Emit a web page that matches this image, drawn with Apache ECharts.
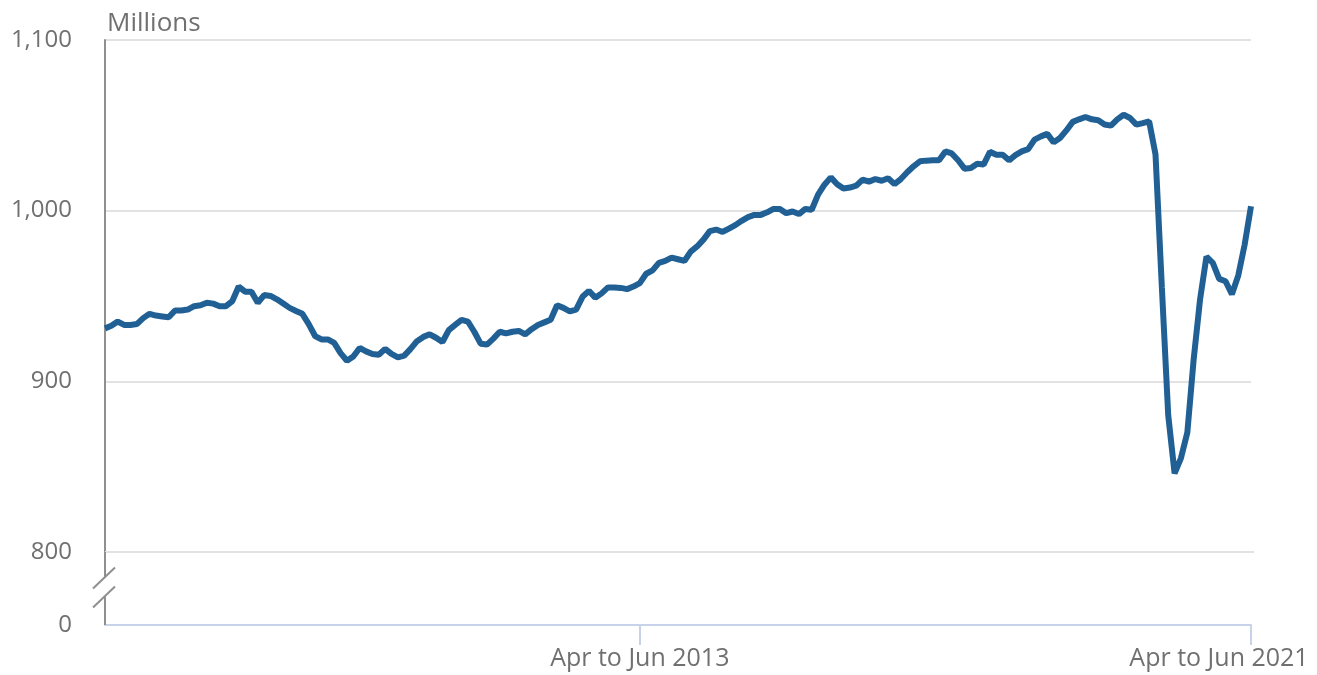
<!DOCTYPE html>
<html>
<head>
<meta charset="utf-8">
<script src="https://cdn.jsdelivr.net/npm/echarts@6/dist/echarts.min.js"></script>
<style>
  html, body { margin: 0; padding: 0; background: #fff; }
  #chartWrap { width: 1317px; height: 675px; }
</style>
</head>
<body>
<div id="chartWrap"></div>
<script>
// weekly hours worked, millions, rolling three-month periods from Apr to Jun 2006
var hours = [
  931, 932.5, 935, 933, 933, 933.5, 937, 939.5, 938.5, 938,
  937.5, 941.5, 941.5, 942, 944, 944.5, 946, 945.5, 944, 944,
  947, 955.5, 952.5, 952.5, 946, 950.5, 950, 948, 945.5, 943,
  941.2, 939.5, 933.5, 926.5, 924.5, 924.5, 922.5, 916.5, 912, 914.5,
  919.5, 917.5, 916, 915.5, 919, 916, 914, 915, 919, 923.5,
  926, 927.5, 925.5, 923, 930, 933, 936, 935, 929, 922,
  921.5, 925, 929, 928, 929, 929.5, 927.5, 930.5, 933, 934.5,
  936, 944.5, 943, 941, 942, 949.5, 953, 949, 951.5, 955,
  954.9, 954.7, 954, 955.5, 957.5, 963, 965, 969.4, 970.5, 972.5,
  971.5, 970.5, 976, 979, 983, 988, 988.9, 987.5, 989.5, 991.5,
  994, 996.2, 997.5, 997.5, 999, 1001, 1001, 998.5, 999.5, 998,
  1001, 1000.5, 1009.4, 1015.2, 1019.5, 1015.5, 1013, 1013.5, 1014.6, 1018.2,
  1017, 1018.5, 1017.5, 1019, 1015.5, 1018.5, 1022.5, 1026, 1028.9, 1029.3,
  1029.5, 1029.5, 1034.7, 1033.5, 1029.5, 1024.6, 1025, 1027.5, 1027, 1034.5,
  1032.8, 1032.8, 1029.5, 1032.5, 1034.7, 1036, 1041.6, 1043.5, 1045, 1040,
  1042.6, 1047, 1052, 1053.5, 1054.9, 1053.5, 1053, 1050.5, 1049.8, 1053.5,
  1056.2, 1054.3, 1050.4, 1051.3, 1052.3, 1033, 955, 880, 846, 855,
  870, 913, 948, 973, 969.4, 960, 958.6, 951, 962, 980,
  1002.5
];

// x axis labels that are shown
var labelledPeriods = ['Apr to Jun 2013', 'Apr to Jun 2021'];

// y axis: 0, then a break up to 800
var yMin = 0, yMax = 1100, yStep = 100;
var breakStart = 0, breakEnd = 800;

var months = ['Jan','Feb','Mar','Apr','May','Jun','Jul','Aug','Sep','Oct','Nov','Dec'];
var periods = [];
for (var i = 0; i < hours.length; i++) {
	var end = 5 + i;
	var endYear = 2006 + Math.floor(end / 12);
	var endM = end % 12;
	var startM = (endM + 10) % 12;
	periods.push(months[startM] + ' to ' + months[endM] + ' ' + endYear);
}

var grey = '#707070';
var axisGrey = '#8f8f8f';
var gridGrey = '#e2e2e2';
var font = '"Open Sans", "Noto Sans", sans-serif';

function showLabel(idx, value) {
	return labelledPeriods.indexOf(value) >= 0;
}

var dom = document.getElementById('chartWrap');
var myChart = echarts.init(dom, null, { renderer: 'canvas' });

var option = {
	animation: false,
	textStyle: { fontFamily: font },
	title: {
		text: 'Millions',
		left: 102,
		top: 6,
		textStyle: { fontSize: 26, fontWeight: 'normal', color: grey, fontFamily: font }
	},
	grid: { left: 105, right: 66, top: 40, bottom: 50, containLabel: false },
	xAxis: {
		type: 'category',
		boundaryGap: false,
		data: periods,
		axisLine: { show: true, lineStyle: { color: '#c8d3ea', width: 2 } },
		axisTick: { show: true, interval: showLabel, length: 20, lineStyle: { color: '#c8d3ea', width: 2 } },
		axisLabel: {
			interval: showLabel,
			margin: 21,
			fontSize: 25,
			color: grey,
			fontFamily: font,
			formatter: function (value) {
				if (value === labelledPeriods[labelledPeriods.length - 1]) {
					return '{last|' + value + '}';
				}
				return value;
			},
			rich: {
				last: { fontSize: 25, color: grey, fontFamily: font, padding: [0, 64, 0, 0] }
			}
		},
		splitLine: { show: false }
	},
	yAxis: {
		type: 'value',
		min: yMin,
		max: yMax,
		interval: yStep,
		breaks: [{ start: breakStart, end: breakEnd, gap: '12.5%' }],
		breakArea: { show: false },
		axisLine: { show: true, lineStyle: { color: axisGrey, width: 2 } },
		axisTick: { show: false },
		axisLabel: {
			margin: 33,
			fontSize: 24,
			color: grey,
			fontFamily: font,
			padding: [6, 0, 0, 0],
			formatter: function (v) {
				return String(v).replace(/\B(?=(\d{3})+(?!\d))/g, ',');
			}
		},
		splitLine: { show: true, lineStyle: { color: gridGrey, width: 2 } }
	},
	series: [{
		name: 'Hours',
		type: 'line',
		data: hours,
		symbol: 'none',
		smooth: false,
		lineStyle: { color: '#206095', width: 6 },
		z: 5
	}]
};
myChart.setOption(option, true);

// axis line through the break, gridline at the break end and the break marks
var y0 = myChart.convertToPixel({ yAxisIndex: 0 }, breakStart);
var y1 = myChart.convertToPixel({ yAxisIndex: 0 }, breakEnd);
var xa = myChart.convertToPixel({ xAxisIndex: 0 }, 0);
var xb = myChart.convertToPixel({ xAxisIndex: 0 }, periods.length - 1);
var mid = (y0 + y1) / 2;
var a1 = [xa - 12, mid], a2 = [xa + 10, mid - 21];
var b1 = [xa - 12, mid + 19], b2 = [xa + 10, mid - 2];
myChart.setOption({
	graphic: [
		{ type: 'line', z: 1, shape: { x1: xa, y1: y1, x2: xb + 3, y2: y1 }, style: { stroke: gridGrey, lineWidth: 2 } },
		{ type: 'line', z: 90, shape: { x1: xa, y1: y1, x2: xa, y2: y0 }, style: { stroke: axisGrey, lineWidth: 2 } },
		{ type: 'polygon', z: 100, shape: { points: [a1, a2, b2, b1] }, style: { fill: '#fff' } },
		{ type: 'line', z: 101, shape: { x1: a1[0], y1: a1[1], x2: a2[0], y2: a2[1] }, style: { stroke: axisGrey, lineWidth: 2 } },
		{ type: 'line', z: 101, shape: { x1: b1[0], y1: b1[1], x2: b2[0], y2: b2[1] }, style: { stroke: axisGrey, lineWidth: 2 } }
	]
});
</script>
</body>
</html>
